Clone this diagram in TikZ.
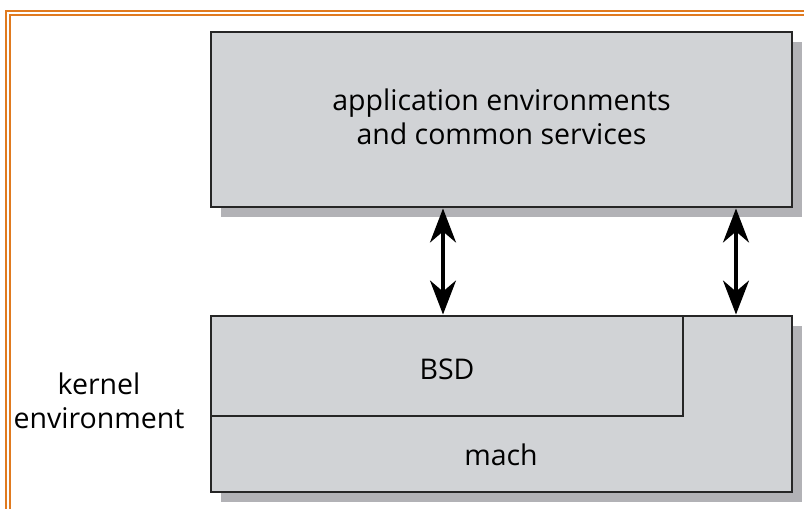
\documentclass[tikz,border=0pt]{standalone}
\usepackage{fontspec}
\setmainfont{Open Sans}
\usetikzlibrary{arrows.meta}
\definecolor{frame}{HTML}{E07A1F}
\definecolor{boxfill}{HTML}{D1D3D6}
\definecolor{shadowc}{HTML}{B2B2B6}
\tikzset{
  framelines/.style={draw=frame, line width=2pt},
  layerbox/.style={fill=boxfill, draw=black!85, line width=2.8pt},
  lbl/.style={font=\fontsize{28.5}{34}\selectfont, align=center, inner sep=0pt},
  biarrow/.style={line width=3.4pt, {Stealth[length=34pt,width=26pt,inset=11pt]}-{Stealth[length=34pt,width=26pt,inset=11pt]}}
}
\begin{document}
\begin{tikzpicture}[x=1pt,y=-1pt]
\useasboundingbox (0,0) rectangle (804,509);
\fill[white] (0,0) rectangle (804,509);
\begin{scope}
\clip (0,0) rectangle (804,509);
\draw[framelines] (5.5,10.5) rectangle (830,540);
\draw[framelines] (10,15) rectangle (826,536);
\end{scope}
% shadows
\fill[shadowc] (221,42) rectangle (802,217);
\fill[shadowc] (221,326) rectangle (802,502);
% top box
\draw[layerbox] (211,32) rectangle (792,207);
\node[lbl] (app) at (501.5,117) {application environments\\and common services};
% kernel box
\draw[layerbox] (211,316) rectangle (792,492);
\draw[layerbox] (211,316) rectangle (683,416);
\node[lbl] (bsd) at (447,369) {BSD};
\node[lbl] (mach) at (501,455) {mach};
\node[lbl] (kernel) at (99,401) {kernel\\environment};
% arrows
\coordinate (a1) at (443,208.5);
\coordinate (b1) at (443,314.5);
\coordinate (a2) at (736,208.5);
\coordinate (b2) at (736,314.5);
\draw[biarrow] (a1) -- (b1);
\draw[biarrow] (a2) -- (b2);
\end{tikzpicture}
\end{document}
